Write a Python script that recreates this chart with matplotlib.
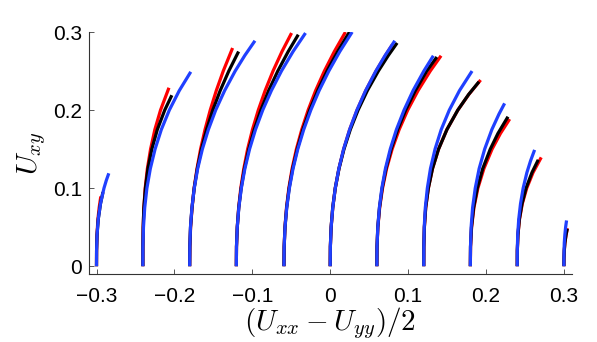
import numpy as np
import matplotlib
matplotlib.use("Agg")
import matplotlib.pyplot as plt

plt.rcParams['font.family'] = ['Liberation Sans', 'DejaVu Sans']
plt.rcParams['mathtext.fontset'] = 'cm'

# start positions of each family of curves on the x axis
x_start = [-0.300, -0.2405, -0.1804, -0.1205, -0.0594, 0.0, 0.0599, 0.1201, 0.1799, 0.2401, 0.300]

# each curve: heights and horizontal offset from its start
red_y = [
    [0, 0.02, 0.04, 0.06, 0.075, 0.0893],
    [0, 0.025, 0.05, 0.075, 0.1, 0.125, 0.15, 0.175, 0.2, 0.2286],
    [0, 0.025, 0.05, 0.075, 0.1, 0.125, 0.15, 0.175, 0.2, 0.225, 0.25, 0.2795],
    [0, 0.025, 0.05, 0.075, 0.1, 0.125, 0.15, 0.175, 0.2, 0.225, 0.25, 0.275, 0.2987],
    [0, 0.025, 0.05, 0.075, 0.1, 0.125, 0.15, 0.175, 0.2, 0.225, 0.25, 0.275, 0.3],
    [0, 0.025, 0.05, 0.075, 0.1, 0.125, 0.15, 0.175, 0.2, 0.225, 0.25, 0.27, 0.284],
    [0, 0.025, 0.05, 0.075, 0.1, 0.125, 0.15, 0.175, 0.2, 0.225, 0.25, 0.2696],
    [0, 0.025, 0.05, 0.075, 0.1, 0.125, 0.15, 0.175, 0.2, 0.22, 0.2385],
    [0, 0.025, 0.05, 0.075, 0.1, 0.125, 0.15, 0.17, 0.1885],
    [0, 0.02, 0.04, 0.06, 0.08, 0.1, 0.12, 0.1394],
    [0, 0.01, 0.02, 0.03, 0.04, 0.0487],
]
red_dx = [
    [0, 0.0001, 0.0006, 0.0018, 0.0034, 0.0055],
    [0, 0.0001, 0.0004, 0.0013, 0.0030, 0.0058, 0.0099, 0.0154, 0.0227, 0.0335],
    [0, 0.0003, 0.0012, 0.0031, 0.0057, 0.0094, 0.0140, 0.0197, 0.0264, 0.0342, 0.0431, 0.0551],
    [0, 0.0002, 0.0012, 0.0030, 0.0057, 0.0096, 0.0145, 0.0207, 0.0282, 0.0370, 0.0471, 0.0586, 0.0709],
    [0, 0.0003, 0.0013, 0.0033, 0.0063, 0.0105, 0.0160, 0.0229, 0.0311, 0.0407, 0.0519, 0.0647, 0.0790],
    [0, 0.0002, 0.0012, 0.0033, 0.0065, 0.0112, 0.0173, 0.0250, 0.0345, 0.0457, 0.0589, 0.0709, 0.0800],
    [0, 0.0002, 0.0013, 0.0036, 0.0073, 0.0125, 0.0196, 0.0286, 0.0396, 0.0529, 0.0685, 0.0824],
    [0, 0.0001, 0.0008, 0.0025, 0.0059, 0.0112, 0.0190, 0.0297, 0.0438, 0.0578, 0.0730],
    [0, 0.0003, 0.0016, 0.0046, 0.0097, 0.0174, 0.0279, 0.0386, 0.0505],
    [0, 0.0001, 0.0009, 0.0029, 0.0065, 0.0122, 0.0203, 0.0308],
    [0, 0.0001, 0.0005, 0.0013, 0.0028, 0.0045],
]

black_y = [
    [0, 0.02, 0.04, 0.06, 0.08, 0.095],
    [0, 0.025, 0.05, 0.075, 0.1, 0.125, 0.15, 0.175, 0.2, 0.219],
    [0, 0.025, 0.05, 0.075, 0.1, 0.125, 0.15, 0.175, 0.2, 0.225, 0.25, 0.275],
    [0, 0.025, 0.05, 0.075, 0.1, 0.125, 0.15, 0.175, 0.2, 0.225, 0.25, 0.275, 0.2966],
    [0, 0.025, 0.05, 0.075, 0.1, 0.125, 0.15, 0.175, 0.2, 0.225, 0.25, 0.275, 0.3],
    [0, 0.025, 0.05, 0.075, 0.1, 0.125, 0.15, 0.175, 0.2, 0.225, 0.25, 0.27, 0.286],
    [0, 0.025, 0.05, 0.075, 0.1, 0.125, 0.15, 0.175, 0.2, 0.225, 0.25, 0.268],
    [0, 0.025, 0.05, 0.075, 0.1, 0.125, 0.15, 0.175, 0.2, 0.22, 0.2363],
    [0, 0.025, 0.05, 0.075, 0.1, 0.125, 0.15, 0.17, 0.1915],
    [0, 0.02, 0.04, 0.06, 0.08, 0.1, 0.12, 0.1363],
    [0, 0.01, 0.02, 0.03, 0.04, 0.048],
]
black_dx = [
    [0, 0.0001, 0.0007, 0.0022, 0.0051, 0.0083],
    [0, 0.0000, 0.0004, 0.0013, 0.0033, 0.0065, 0.0115, 0.0186, 0.0281, 0.0372],
    [0, 0.0002, 0.0011, 0.0030, 0.0058, 0.0098, 0.0151, 0.0217, 0.0297, 0.0392, 0.0502, 0.0628],
    [0, 0.0002, 0.0012, 0.0031, 0.0062, 0.0104, 0.0160, 0.0230, 0.0315, 0.0415, 0.0532, 0.0666, 0.0795],
    [0, 0.0003, 0.0014, 0.0035, 0.0067, 0.0112, 0.0171, 0.0243, 0.0331, 0.0434, 0.0553, 0.0689, 0.0841],
    [0, 0.0002, 0.0012, 0.0032, 0.0065, 0.0113, 0.0177, 0.0258, 0.0358, 0.0477, 0.0618, 0.0746, 0.0859],
    [0, 0.0002, 0.0012, 0.0034, 0.0068, 0.0117, 0.0183, 0.0267, 0.0370, 0.0494, 0.0640, 0.0770],
    [0, 0.0001, 0.0008, 0.0025, 0.0059, 0.0112, 0.0190, 0.0297, 0.0437, 0.0576, 0.0709],
    [0, 0.0002, 0.0015, 0.0042, 0.0089, 0.0159, 0.0256, 0.0354, 0.0483],
    [0, 0.0001, 0.0009, 0.0027, 0.0061, 0.0113, 0.0189, 0.0270],
    [0, 0.0001, 0.0005, 0.0013, 0.0027, 0.0043],
]

blue_y = [
    [0, 0.02, 0.04, 0.06, 0.08, 0.1, 0.11, 0.119],
    [0, 0.025, 0.05, 0.075, 0.1, 0.125, 0.15, 0.175, 0.2, 0.225, 0.249],
    [0, 0.025, 0.05, 0.075, 0.1, 0.125, 0.15, 0.175, 0.2, 0.225, 0.25, 0.27, 0.2888],
    [0, 0.025, 0.05, 0.075, 0.1, 0.125, 0.15, 0.175, 0.2, 0.225, 0.25, 0.275, 0.2987],
    [0, 0.025, 0.05, 0.075, 0.1, 0.125, 0.15, 0.175, 0.2, 0.225, 0.25, 0.275, 0.3],
    [0, 0.025, 0.05, 0.075, 0.1, 0.125, 0.15, 0.175, 0.2, 0.225, 0.25, 0.27, 0.2888],
    [0, 0.025, 0.05, 0.075, 0.1, 0.125, 0.15, 0.175, 0.2, 0.225, 0.25, 0.2696],
    [0, 0.025, 0.05, 0.075, 0.1, 0.125, 0.15, 0.175, 0.2, 0.225, 0.25],
    [0, 0.025, 0.05, 0.075, 0.1, 0.125, 0.15, 0.175, 0.195, 0.2086],
    [0, 0.02, 0.04, 0.06, 0.08, 0.1, 0.12, 0.135, 0.149],
    [0, 0.01, 0.02, 0.03, 0.04, 0.05, 0.0586],
]
blue_dx = [
    [0, 0.0001, 0.0007, 0.0022, 0.0051, 0.0096, 0.0126, 0.0158],
    [0, 0.0001, 0.0008, 0.0024, 0.0052, 0.0096, 0.0157, 0.0237, 0.0340, 0.0468, 0.0615],
    [0, 0.0002, 0.0010, 0.0029, 0.0059, 0.0103, 0.0163, 0.0240, 0.0334, 0.0449, 0.0584, 0.0708, 0.0838],
    [0, 0.0002, 0.0012, 0.0032, 0.0064, 0.0110, 0.0170, 0.0246, 0.0339, 0.0450, 0.0579, 0.0728, 0.0888],
    [0, 0.0003, 0.0014, 0.0036, 0.0070, 0.0117, 0.0178, 0.0254, 0.0345, 0.0452, 0.0576, 0.0717, 0.0876],
    [0, 0.0002, 0.0012, 0.0033, 0.0065, 0.0111, 0.0172, 0.0249, 0.0343, 0.0455, 0.0586, 0.0705, 0.0829],
    [0, 0.0002, 0.0012, 0.0032, 0.0064, 0.0110, 0.0172, 0.0251, 0.0349, 0.0465, 0.0603, 0.0725],
    [0, 0.0001, 0.0006, 0.0020, 0.0046, 0.0086, 0.0145, 0.0224, 0.0328, 0.0459, 0.0620],
    [0, 0.0002, 0.0010, 0.0029, 0.0063, 0.0113, 0.0184, 0.0276, 0.0368, 0.0440],
    [0, 0.0001, 0.0006, 0.0019, 0.0042, 0.0076, 0.0124, 0.0171, 0.0223],
    [0, 0.0000, 0.0002, 0.0005, 0.0012, 0.0022, 0.0034],
]

xticks = [-0.3, -0.2, -0.1, 0, 0.1, 0.2, 0.3]
xticklabels = ['\u22120.3', '\u22120.2', '\u22120.1', '0', '0.1', '0.2', '0.3']
yticks = [0, 0.1, 0.2, 0.3]
yticklabels = ['0', '0.1', '0.2', '0.3']

fig = plt.figure(figsize=(5.97, 3.42), dpi=100)
ax = fig.add_axes([0.1486, 0.1988, 0.8090, 0.7076])

lw = 2.3
for i, x0 in enumerate(x_start):
    ax.plot(x0 + np.array(red_dx[i]), red_y[i], color='#ff0000', lw=lw,
            solid_capstyle='butt', solid_joinstyle='round')
    ax.plot(x0 + np.array(black_dx[i]), black_y[i], color='#000000', lw=lw,
            solid_capstyle='butt', solid_joinstyle='round')
    ax.plot(x0 + np.array(blue_dx[i]), blue_y[i], color='#2040ff', lw=lw,
            solid_capstyle='butt', solid_joinstyle='round')

ax.set_xlim(-0.31, 0.31)
ax.set_ylim(-0.01, 0.3)
ax.set_xticks(xticks)
ax.set_xticklabels(xticklabels)
ax.set_yticks(yticks)
ax.set_yticklabels(yticklabels)

for s in ['top', 'right']:
    ax.spines[s].set_visible(False)
for s in ['left', 'bottom']:
    ax.spines[s].set_color('#333333')
    ax.spines[s].set_linewidth(0.8)

ax.tick_params(direction='in', length=3.5, width=0.7, color='#555555', labelsize=15)
ax.tick_params(axis='x', pad=9)
ax.tick_params(axis='y', pad=5)

ax.set_xlabel(r'$(U_{xx}-U_{yy})/2$', fontsize=21, labelpad=0)
ax.set_ylabel(r'$U_{xy}$', fontsize=21, labelpad=3)

fig.savefig('out.png', dpi=100)
